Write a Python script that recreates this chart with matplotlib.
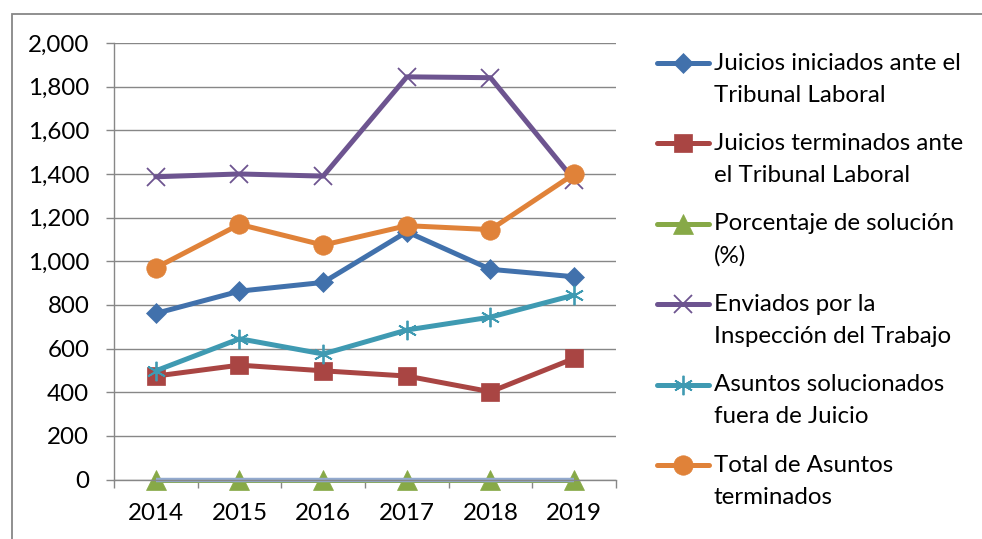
import matplotlib
matplotlib.use("Agg")
import matplotlib.pyplot as plt
from matplotlib.lines import Line2D
from matplotlib.patches import Rectangle
from matplotlib.ticker import FuncFormatter, FixedLocator
import numpy as np

# --- data ---
years = ["2014", "2015", "2016", "2017", "2018", "2019"]

juicios_iniciados = [761, 863, 903, 1135, 963, 929]
juicios_terminados = [474, 524, 498, 474, 402, 555]
porcentaje_solucion = [0, 0, 0, 0, 0, 0]
enviados_inspeccion = [1387, 1400, 1390, 1845, 1841, 1372]
asuntos_fuera = [498, 645, 575, 685, 744, 845]
total_terminados = [970, 1169, 1074, 1163, 1145, 1400]
serie_base = [0, 0, 0, 0, 0, 0]  # pale line drawn on the zero axis

labels = [
    "Juicios iniciados ante el\nTribunal Laboral",
    "Juicios terminados ante\nel Tribunal Laboral",
    "Porcentaje de solución\n(%)",
    "Enviados por la\nInspección del Trabajo",
    "Asuntos solucionados\nfuera de Juicio",
    "Total de Asuntos\nterminados",
]

# styles: colour, marker, markersize, marker edge width
STYLES = [
    ("#4171AC", "D", 10.5, 0.5),
    ("#A94543", "s", 13.5, 0.5),
    ("#87A947", "^", 14.0, 0.5),
    ("#6D5490", "x", 13.0, 1.3),
    ("#3F9AB2", (6, 2, 0), 14.0, 1.3),
    ("#E08239", "o", 14.0, 0.5),
]
series = [juicios_iniciados, juicios_terminados, porcentaje_solucion,
          enviados_inspeccion, asuntos_fuera, total_terminados]

W, H = 982, 539
FS = 17.4
plt.rcParams["font.family"] = ["Lato", "DejaVu Sans"]

fig = plt.figure(figsize=(W / 100, H / 100), dpi=100)
fig.patch.set_facecolor("white")


def fx(px):
    return px / W


def fy(py):
    return 1 - py / H


# outer chart frame (cropped at right and bottom)
fig.add_artist(Rectangle((fx(12), -0.2), 2, fy(14) + 0.2, transform=fig.transFigure,
                         fill=False, edgecolor="#878787", linewidth=1.3))

ax = fig.add_axes([fx(114), fy(479.5), fx(616) - fx(114), fy(43) - fy(479.5)])
x = np.arange(len(years))

for vals, (col, mk, ms, mew) in zip(series, STYLES):
    ax.plot(x, vals, color=col, linewidth=3.6, marker=mk, markersize=ms,
            markerfacecolor=col, markeredgecolor=col, markeredgewidth=mew,
            solid_capstyle="round", solid_joinstyle="round", clip_on=False)

ax.plot(x, serie_base, color="#93AACF", linewidth=3.2, solid_capstyle="butt", clip_on=False)

ax.set_xlim(-0.5, len(years) - 0.5)
ax.set_ylim(0, 2000)
ax.set_yticks(np.arange(0, 2001, 200))
ax.yaxis.set_major_formatter(FuncFormatter(lambda v, _: f"{v:,.0f}"))
ax.set_xticks(x)
ax.set_xticklabels(years)
ax.xaxis.set_minor_locator(FixedLocator(np.arange(-0.5, len(years), 1.0)))

ax.grid(axis="y", color="#878787", linewidth=1.0)
ax.set_axisbelow(True)
for s in ("top", "right"):
    ax.spines[s].set_visible(False)
for s in ("left", "bottom"):
    ax.spines[s].set_color("#878787")
    ax.spines[s].set_linewidth(1.0)

ax.tick_params(axis="y", length=5.8, width=1.0, color="#878787", pad=12,
               labelsize=FS, labelcolor="black")
ax.tick_params(axis="x", which="major", length=0, pad=17, labelsize=FS, labelcolor="black")
ax.tick_params(axis="x", which="minor", length=5.8, width=1.0, color="#878787")

# legend drawn by hand so the key sits on the first text line, as in the source
leg_y0, leg_dy, line_gap = 63, 80.4, 32
for i, ((col, mk, ms, mew), lab) in enumerate(zip(STYLES, labels)):
    yy = leg_y0 + i * leg_dy
    fig.add_artist(Line2D([fx(657), fx(709)], [fy(yy), fy(yy)], transform=fig.transFigure,
                          color=col, linewidth=3.6, solid_capstyle="round"))
    fig.add_artist(Line2D([fx(683)], [fy(yy)], transform=fig.transFigure, color=col,
                          marker=mk, markersize=ms, markerfacecolor=col,
                          markeredgecolor=col, markeredgewidth=mew, linestyle="none"))
    for j, part in enumerate(lab.split("\n")):
        fig.text(fx(714), fy(yy + j * line_gap), part, fontsize=FS,
                 ha="left", va="center", color="black")

fig.savefig("out.png", dpi=100, facecolor="white")
